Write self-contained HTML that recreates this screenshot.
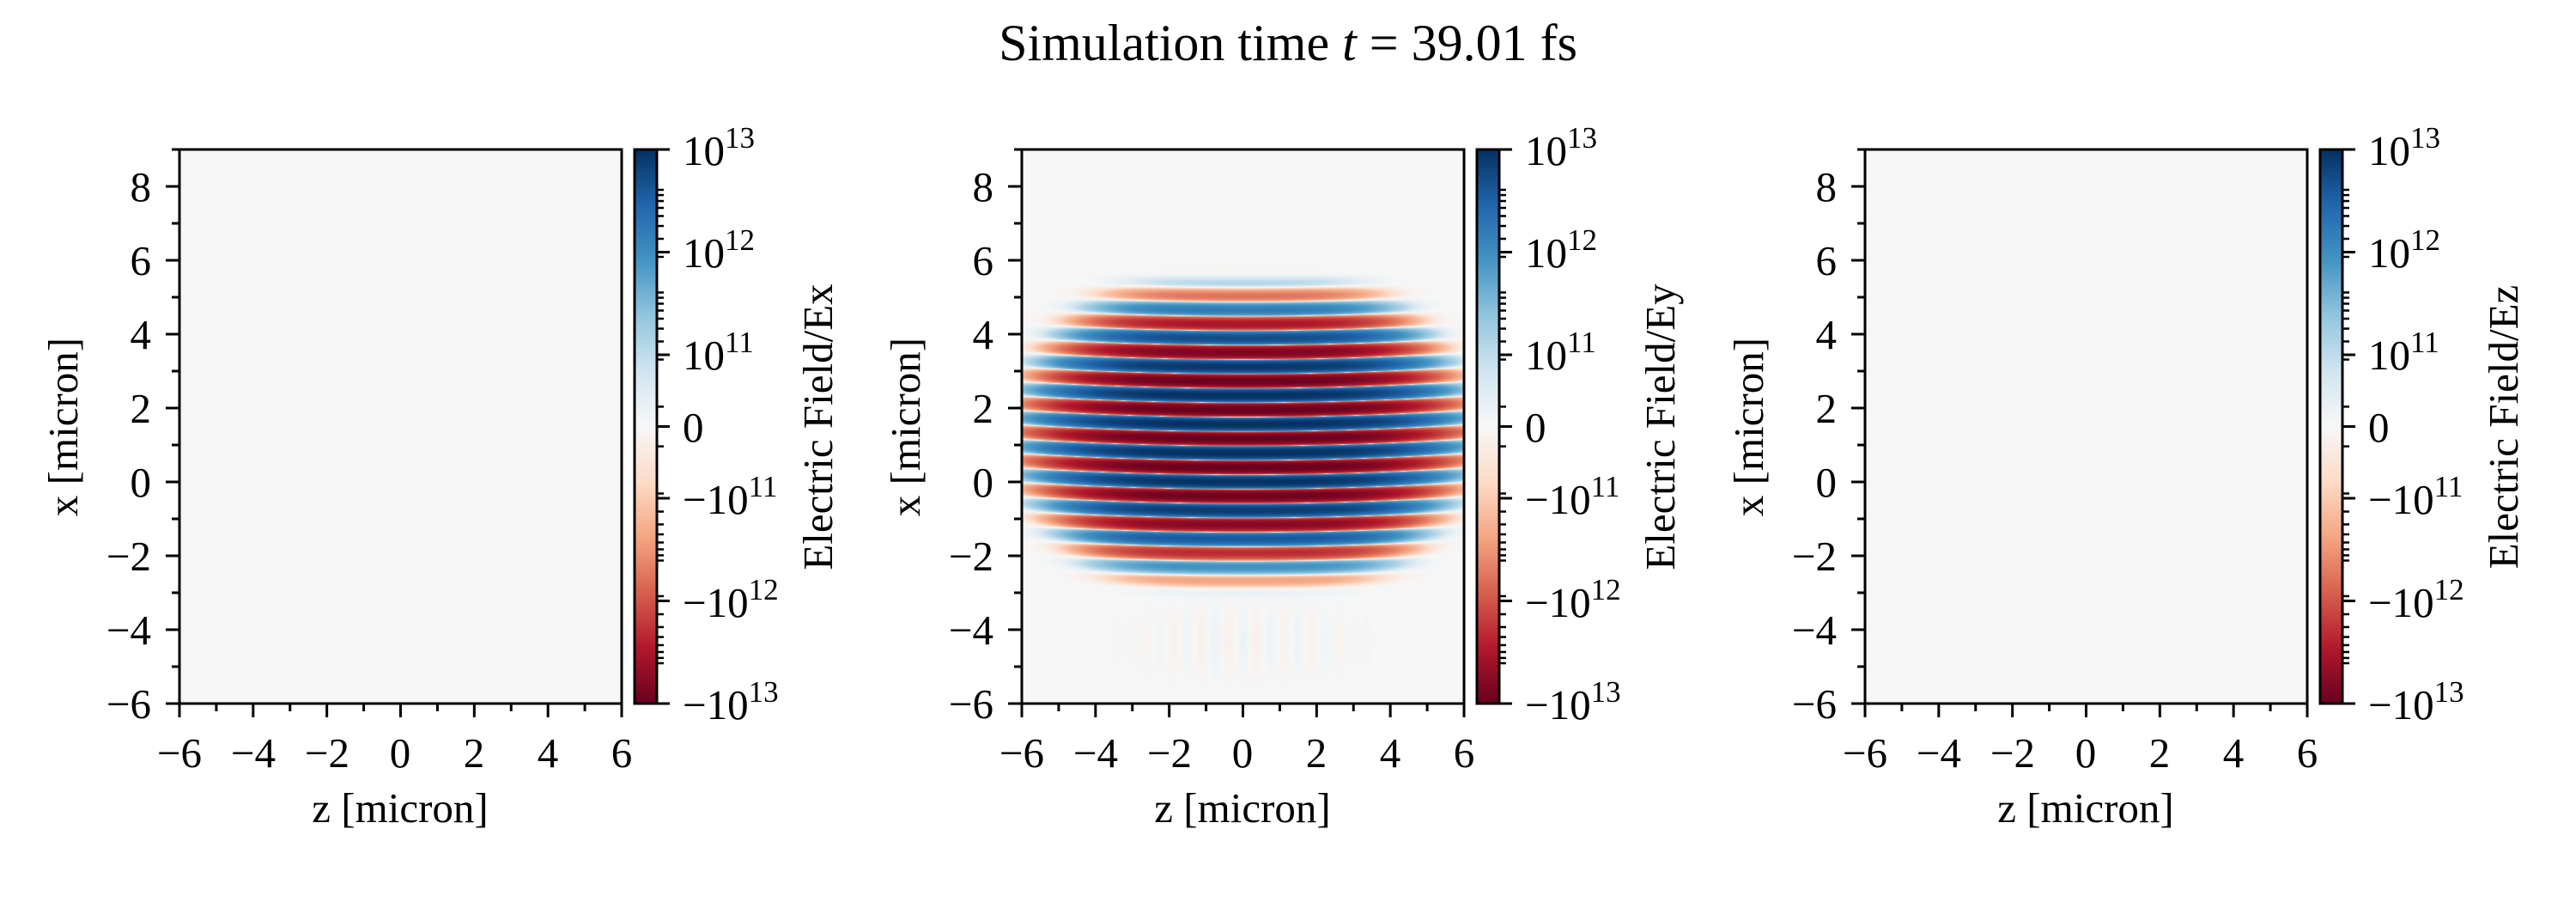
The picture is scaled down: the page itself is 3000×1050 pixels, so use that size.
<!DOCTYPE html>
<html><head><meta charset="utf-8">
<style>
html,body{margin:0;padding:0;background:#fff;}
#wrap{position:relative;width:3000px;height:1050px;overflow:hidden;}
#cv{position:absolute;left:1190px;top:174px;width:515px;height:645px;}
svg{position:absolute;left:0;top:0;}
text{font-family:"Liberation Serif","DejaVu Serif",serif;fill:#000;}
</style></head><body>
<div id="wrap">
<canvas id="cv" width="515" height="645"></canvas>
<svg id="sv" width="3000" height="1050" viewBox="0 0 3000 1050">
<defs>
<linearGradient id="rdbu" x1="0" y1="1" x2="0" y2="0">
<stop offset="0" stop-color="#67001f"/><stop offset="0.1" stop-color="#b2182b"/><stop offset="0.2" stop-color="#d6604d"/><stop offset="0.3" stop-color="#f4a582"/><stop offset="0.4" stop-color="#fddbc7"/><stop offset="0.5" stop-color="#f7f7f7"/><stop offset="0.6" stop-color="#d1e5f0"/><stop offset="0.7" stop-color="#92c5de"/><stop offset="0.8" stop-color="#4393c3"/><stop offset="0.9" stop-color="#2166ac"/><stop offset="1" stop-color="#053061"/>
</linearGradient>
</defs>
<text x="1500" y="70" font-size="60" text-anchor="middle">Simulation time <tspan font-style="italic">t</tspan> = 39.01 fs</text>
<rect x="209" y="174" width="515" height="645" fill="#f6f6f6"/>
<rect x="2172" y="174" width="515" height="645" fill="#f6f6f6"/>
<g id="lines"></g>

<!-- panel 1 -->
<g font-size="49">
<g text-anchor="middle">
<text x="209" y="893">−6</text><text x="295" y="893">−4</text><text x="381" y="893">−2</text><text x="466" y="893">0</text><text x="552" y="893">2</text><text x="638" y="893">4</text><text x="724" y="893">6</text>
<text x="466" y="957">z [micron]</text>
</g>
<g text-anchor="end">
<text x="176" y="836">−6</text><text x="176" y="750">−4</text><text x="176" y="664">−2</text><text x="176" y="578">0</text><text x="176" y="492">2</text><text x="176" y="406">4</text><text x="176" y="320">6</text><text x="176" y="234">8</text>
</g>
<text transform="translate(90,497) rotate(-90)" text-anchor="middle">x [micron]</text>
<text x="795" y="192">10<tspan font-size="35" dy="-20">13</tspan></text>
<text x="795" y="311">10<tspan font-size="35" dy="-20">12</tspan></text>
<text x="795" y="430">10<tspan font-size="35" dy="-20">11</tspan></text>
<text x="795" y="514">0</text>
<text x="795" y="598">−10<tspan font-size="35" dy="-20">11</tspan></text>
<text x="795" y="718">−10<tspan font-size="35" dy="-20">12</tspan></text>
<text x="795" y="837">−10<tspan font-size="35" dy="-20">13</tspan></text>
<text transform="translate(969,497) rotate(-90)" text-anchor="middle">Electric Field/Ex</text>
</g>

<!-- panel 2 -->
<g font-size="49" transform="translate(981,0)">
<g text-anchor="middle">
<text x="209" y="893">−6</text><text x="295" y="893">−4</text><text x="381" y="893">−2</text><text x="466" y="893">0</text><text x="552" y="893">2</text><text x="638" y="893">4</text><text x="724" y="893">6</text>
<text x="466" y="957">z [micron]</text>
</g>
<g text-anchor="end">
<text x="176" y="836">−6</text><text x="176" y="750">−4</text><text x="176" y="664">−2</text><text x="176" y="578">0</text><text x="176" y="492">2</text><text x="176" y="406">4</text><text x="176" y="320">6</text><text x="176" y="234">8</text>
</g>
<text transform="translate(90,497) rotate(-90)" text-anchor="middle">x [micron]</text>
<text x="795" y="192">10<tspan font-size="35" dy="-20">13</tspan></text>
<text x="795" y="311">10<tspan font-size="35" dy="-20">12</tspan></text>
<text x="795" y="430">10<tspan font-size="35" dy="-20">11</tspan></text>
<text x="795" y="514">0</text>
<text x="795" y="598">−10<tspan font-size="35" dy="-20">11</tspan></text>
<text x="795" y="718">−10<tspan font-size="35" dy="-20">12</tspan></text>
<text x="795" y="837">−10<tspan font-size="35" dy="-20">13</tspan></text>
<text transform="translate(969,497) rotate(-90)" text-anchor="middle">Electric Field/Ey</text>
</g>

<!-- panel 3 -->
<g font-size="49" transform="translate(1963,0)">
<g text-anchor="middle">
<text x="209" y="893">−6</text><text x="295" y="893">−4</text><text x="381" y="893">−2</text><text x="466" y="893">0</text><text x="552" y="893">2</text><text x="638" y="893">4</text><text x="724" y="893">6</text>
<text x="466" y="957">z [micron]</text>
</g>
<g text-anchor="end">
<text x="176" y="836">−6</text><text x="176" y="750">−4</text><text x="176" y="664">−2</text><text x="176" y="578">0</text><text x="176" y="492">2</text><text x="176" y="406">4</text><text x="176" y="320">6</text><text x="176" y="234">8</text>
</g>
<text transform="translate(90,497) rotate(-90)" text-anchor="middle">x [micron]</text>
<text x="795" y="192">10<tspan font-size="35" dy="-20">13</tspan></text>
<text x="795" y="311">10<tspan font-size="35" dy="-20">12</tspan></text>
<text x="795" y="430">10<tspan font-size="35" dy="-20">11</tspan></text>
<text x="795" y="514">0</text>
<text x="795" y="598">−10<tspan font-size="35" dy="-20">11</tspan></text>
<text x="795" y="718">−10<tspan font-size="35" dy="-20">12</tspan></text>
<text x="795" y="837">−10<tspan font-size="35" dy="-20">13</tspan></text>
<text transform="translate(969,497) rotate(-90)" text-anchor="middle">Electric Field/Ez</text>
</g>
</svg>
</div>
<script>
(function(){
var NS="http://www.w3.org/2000/svg";
var g=document.getElementById("lines");
function ln(x1,y1,x2,y2,w){var l=document.createElementNS(NS,"line");l.setAttribute("x1",x1);l.setAttribute("y1",y1);l.setAttribute("x2",x2);l.setAttribute("y2",y2);l.setAttribute("stroke","#000");l.setAttribute("stroke-width",w||3);g.appendChild(l);}
function rc(x,y,w,h,f){var r=document.createElementNS(NS,"rect");r.setAttribute("x",x);r.setAttribute("y",y);r.setAttribute("width",w);r.setAttribute("height",h);r.setAttribute("fill",f);r.setAttribute("stroke","#000");r.setAttribute("stroke-width",3);g.appendChild(r);}
var offs=[0,981,1963];
offs.forEach(function(o){
  var L=209+o,T=174,B=819;
  rc(L,T,515,645,"none");
  for(var z=-6;z<=6;z++){var X=L+(z+6)*515/12; ln(X,B,X,B+(z%2===0?16:9),3);}
  for(var v=-6;v<=9;v++){var Y=B-(v+6)*43; ln(L,Y,L-(v%2===0?16:9),Y,3);}
  var cl=739+o,cr=765+o;
  rc(cl,T,26,645,"url(#rdbu)");
  var mid=496.5,lin=42,dec=119.5;
  [174,293.5,413,496.5,580,699.5,819].forEach(function(Y){ln(cr,Y,cr+15,Y,3);});
  for(var d=0;d<2;d++){for(var k=2;k<=9;k++){var p=lin+dec*d+dec*Math.log10(k);ln(cr,mid-p,cr+8,mid-p,2.5);ln(cr,mid+p,cr+8,mid+p,2.5);}}
  ln(cr,mid-lin*0.55,cr+8,mid-lin*0.55,2.5);ln(cr,mid+lin*0.55,cr+8,mid+lin*0.55,2.5);
});
var stops=[[103,0,31],[178,24,43],[214,96,77],[244,165,130],[253,219,199],[247,247,247],[209,229,240],[146,197,222],[67,147,195],[33,102,172],[5,48,97]];
function cmap(t){t=Math.max(0,Math.min(1,t));var f=t*10,i=Math.min(9,Math.floor(f)),a=f-i;var s=stops[i],e=stops[i+1];return [s[0]+(e[0]-s[0])*a,s[1]+(e[1]-s[1])*a,s[2]+(e[2]-s[2])*a];}
function pos(v){var av=Math.abs(v),p;if(av<1e11)p=av/1e11*42;else p=42+119.5*Math.log10(av/1e11);if(p>322.5)p=322.5;return (322.5+(v<0?-p:p))/645;}
var cv=document.getElementById("cv"),ctx=cv.getContext("2d");
var img=ctx.createImageData(515,645),D=img.data;
for(var py=0;py<645;py++){
  var x=9-(py+0.5)/43;
  for(var px=0;px<515;px++){
    var z=-6+(px+0.5)*12/515;
    var A=2.2e13*Math.exp(-Math.pow((x-1.3)/2.9,4));
    A*=Math.exp(-Math.pow(Math.abs(z)/4.6,4)*(1+Math.pow((x-1.3)/2.5,2)));
    var xb=-3.0+0.012*z*z;
    A*=1/(1+Math.exp(-(x-xb)/0.12));
    A*=1/(1+Math.exp((x-5.55)/0.15));
    var E=A*Math.cos(2*Math.PI*(x-0.005*z*z)/0.78);
    if(x<-3.1&&x>-5.8){E+=4e10*Math.cos(2*Math.PI*z/0.75)*Math.exp(-Math.pow(z/3.2,2))*Math.exp(-Math.pow((x+4.3)/1.0,2));}
    var c=cmap(pos(E));var k=(py*515+px)*4;
    D[k]=c[0];D[k+1]=c[1];D[k+2]=c[2];D[k+3]=255;
  }
}
ctx.putImageData(img,0,0);
})();
</script>
</body></html>
